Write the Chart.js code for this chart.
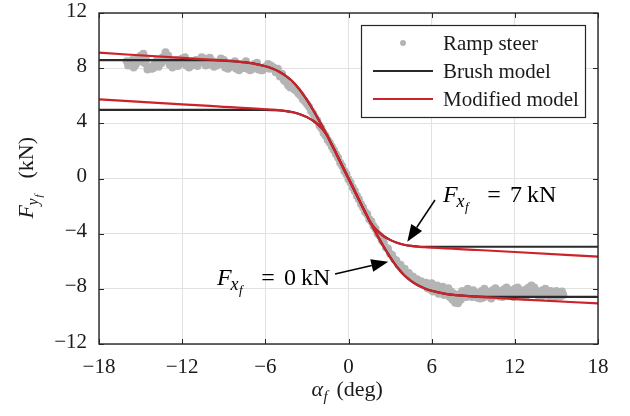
<!DOCTYPE html>
<html>
<head>
<meta charset="utf-8">
<title>Front lateral force vs slip angle</title>
<script src="https://cdn.jsdelivr.net/npm/chart.js@4.4.1/dist/chart.umd.min.js"></script>
<style>
  html, body { margin: 0; padding: 0; background: #ffffff; }
  canvas { display: block; }
</style>
</head>
<body>
<canvas id="chart" width="630" height="416" style="width:630px;height:416px"></canvas>
<script>
// ---------------- data ----------------
const xTickValues = [-18, -12, -6, 0, 6, 12, 18];
const yTickValues = [-12, -8, -4, 0, 4, 8, 12];
const seriesNames = ['Ramp steer', 'Brush model', 'Modified model'];
const annotationForces = ['7', '0'];   // F_xf values (kN) of the two labelled curve pairs

// Ramp steer measurements: slip angle (deg)
const rampAlpha = [
  -16.0,-15.8,-15.6,-15.4,-15.2,-15.0,-14.8,-14.6,-14.4,-14.2,-14.0,-13.8,-13.6,-13.4,-13.2,-13.0,-12.8,-12.6,-12.4,-12.2,
  -12.0,-11.8,-11.6,-11.4,-11.2,-11.0,-10.8,-10.6,-10.4,-10.2,-10.0,-9.8,-9.6,-9.4,-9.2,-9.0,-8.8,-8.6,-8.4,-8.2,
  -8.0,-7.8,-7.6,-7.4,-7.2,-7.0,-6.8,-6.6,-6.4,-6.2,-6.0,-5.8,-5.6,
  -15.9,-15.7,-15.5,-15.3,-15.1,-14.9,-14.7,-14.5,-14.3,-14.1,-13.9,-13.7,-13.5,-13.3,-13.1,-12.9,-12.7,-12.5,-12.3,-12.1,
  -11.9,-11.7,-11.5,-11.3,-11.1,-10.9,-10.7,-10.5,-10.3,-10.1,-9.9,-9.7,-9.5,-9.3,-9.1,-8.9,-8.7,-8.5,-8.3,-8.1,
  -7.9,-7.7,-7.5,-7.3,-7.1,-6.9,-6.7,-6.5,-6.3,-6.1,-5.9,-5.7,
  -5.4,-5.25,-5.1,-4.95,-4.8,-4.65,-4.5,-4.35,-4.2,-4.05,-3.9,-3.75,-3.6,-3.45,-3.3,-3.15,-3.0,-2.85,-2.7,-2.55,
  -2.4,-2.25,-2.1,-1.95,-1.8,-1.65,-1.5,-1.35,-1.2,-1.05,-0.9,-0.75,-0.6,-0.45,-0.3,-0.15,0,
  0.15,0.3,0.45,0.6,0.75,0.9,1.05,1.2,1.35,1.5,1.65,1.8,1.95,2.1,2.25,2.4,2.55,2.7,2.85,3.0,
  3.15,3.3,3.45,3.6,3.75,3.9,4.05,4.2,4.35,4.5,4.65,4.8,4.95,5.1,5.25,5.4,
  5.6,5.8,6.0,6.2,6.4,6.6,6.8,7.0,7.2,7.4,7.6,7.8,8.0,8.2,8.4,8.6,8.8,9.0,9.2,9.4,
  9.6,9.8,10.0,10.2,10.4,10.6,10.8,11.0,11.2,11.4,11.6,11.8,12.0,12.2,12.4,12.6,12.8,13.0,13.2,13.4,
  13.6,13.8,14.0,14.2,14.4,14.6,14.8,15.0,15.2,15.4,
  5.7,5.9,6.1,6.3,6.5,6.7,6.9,7.1,7.3,7.5,7.7,7.9,8.1,8.3,8.5,8.7,8.9,9.1,9.3,9.5,
  9.7,9.9,10.1,10.3,10.5,10.7,10.9,11.1,11.3,11.5,11.7,11.9,12.1,12.3,12.5,12.7,12.9,13.1,13.3,13.5,
  13.7,13.9,14.1,14.3,14.5,14.7,14.9,15.1,15.3,15.5
];
// Ramp steer measurements: lateral force (kN)
const rampFy = [
  8.5,8.3,8.6,8.2,8.7,8.9,9.05,8.6,8.1,7.95,8.3,8.6,8.4,8.8,9.15,8.9,8.5,8.3,8.6,8.4,
  8.7,8.8,8.5,8.3,8.5,8.6,8.4,8.8,8.7,8.4,8.75,8.5,8.3,8.45,8.7,8.6,8.3,8.1,8.35,8.5,
  8.2,7.95,8.3,8.5,8.1,7.9,8.3,8.4,8.0,7.85,8.1,8.3,8.2,
  8.2,8.45,8.05,8.35,8.5,8.7,8.35,7.9,8.05,8.0,8.2,8.1,8.35,8.6,8.55,8.25,8.05,8.2,8.15,8.35,
  8.5,8.2,8.05,8.2,8.3,8.15,8.45,8.5,8.2,8.4,8.25,8.1,8.2,8.4,8.3,8.05,7.95,8.1,8.2,7.95,
  7.85,8.0,8.2,7.95,7.85,8.0,8.1,7.9,7.85,7.95,8.05,7.95,
  8.05,7.7,7.95,7.4,7.6,7.1,7.0,6.75,6.6,6.7,6.45,6.35,6.15,6.0,5.75,5.6,5.4,5.2,4.9,4.7,
  4.4,4.2,3.85,3.65,3.3,3.1,2.8,2.6,2.3,2.05,1.75,1.5,1.15,0.9,0.55,0.3,-0.05,
  -0.3,-0.65,-0.9,-1.25,-1.5,-1.85,-2.1,-2.42,-2.6,-2.95,-3.12,-3.45,-3.65,-4.0,-4.15,-4.5,-4.65,-5.0,-5.1,-5.45,
  -5.55,-5.85,-5.95,-6.25,-6.25,-6.55,-6.55,-6.85,-6.85,-7.1,-7.1,-7.35,-7.3,-7.5,-7.45,-7.65,
  -7.55,-7.7,-7.6,-7.85,-7.75,-7.95,-7.85,-8.05,-7.95,-8.2,-8.35,-8.55,-8.4,-8.15,-8.25,-8.0,-8.2,-8.1,-8.3,-8.35,
  -8.15,-8.0,-8.2,-8.3,-8.1,-7.95,-8.15,-8.25,-8.05,-7.9,-8.1,-8.2,-8.0,-7.9,-8.1,-8.2,-8.05,-7.9,-7.75,-7.9,
  -8.15,-8.25,-8.1,-8.0,-8.2,-8.15,-8.25,-8.15,-8.25,-8.2,
  -7.95,-8.05,-8.2,-8.1,-8.35,-8.25,-8.45,-8.4,-8.6,-8.8,-9.0,-9.05,-8.8,-8.55,-8.6,-8.45,-8.6,-8.5,-8.65,-8.7,
  -8.65,-8.45,-8.55,-8.7,-8.5,-8.4,-8.55,-8.6,-8.45,-8.35,-8.5,-8.6,-8.45,-8.35,-8.5,-8.6,-8.45,-8.3,-8.2,-8.35,
  -8.5,-8.6,-8.45,-8.4,-8.55,-8.5,-8.6,-8.5,-8.55,-8.45
];

// Model curves sampled at these slip angles (deg)
const curveAlpha = [-18,-12,-10,-9,-8,-7,-6,-5.5,-5,-4.5,-4,-3.5,-3,-2.5,-2,-1.75,-1.5,-1.25,-1,-0.5,0,
                    0.5,1,1.25,1.5,1.75,2,2.5,3,3.5,4,4.5,5,5.5,6,7,8,9,10,12,18];
// Brush model, F_xf = 0 kN
const brushFx0 = [8.58,8.58,8.58,8.55,8.48,8.36,8.14,7.97,7.74,7.42,7.0,6.42,5.7,4.88,3.98,3.51,3.04,2.54,2.04,1.02,0,
                  -1.02,-2.04,-2.54,-3.04,-3.51,-3.98,-4.88,-5.7,-6.42,-7.0,-7.42,-7.74,-7.97,-8.14,-8.36,-8.48,-8.55,-8.58,-8.58,-8.58];
// Brush model, F_xf = 7 kN
const brushFx7 = [4.97,4.97,4.97,4.97,4.97,4.97,4.97,4.96,4.94,4.89,4.8,4.66,4.45,4.15,3.72,3.42,3.04,2.54,2.04,1.02,0,
                  -1.02,-2.04,-2.54,-3.04,-3.42,-3.72,-4.15,-4.45,-4.66,-4.8,-4.89,-4.93,-4.95,-4.95,-4.95,-4.95,-4.95,-4.95,-4.95,-4.95];
// Modified model, F_xf = 0 kN
const modifiedFx0 = [9.12,8.74,8.62,8.56,8.48,8.36,8.14,7.97,7.74,7.42,7.0,6.42,5.7,4.88,3.98,3.51,3.04,2.54,2.04,1.02,0,
                     -1.02,-2.04,-2.54,-3.04,-3.51,-3.98,-4.88,-5.7,-6.42,-7.0,-7.42,-7.74,-7.97,-8.14,-8.36,-8.48,-8.56,-8.62,-8.74,-9.06];
// Modified model, F_xf = 7 kN
const modifiedFx7 = [5.74,5.38,5.26,5.2,5.14,5.08,5.02,4.99,4.95,4.89,4.8,4.66,4.45,4.15,3.72,3.42,3.04,2.54,2.04,1.02,0,
                     -1.02,-2.04,-2.54,-3.04,-3.42,-3.72,-4.15,-4.45,-4.66,-4.8,-4.89,-4.95,-4.98,-5.01,-5.06,-5.12,-5.17,-5.22,-5.33,-5.67];

// ---------------- styling ----------------
const FONT = "'Liberation Serif','Times New Roman',Times,serif";
const COLORS = {
  ramp: '#b4b4b4', brush: '#2a2a2a', modified: '#cc2229',
  axis: '#262626', grid: '#e2e2e2', text: '#1a1a1a'
};
// annotation anchors in data units (slip angle, force)
const ANNOT = [
  { label: [6.82, -1.70], tail: [6.24, -1.56], tip: [4.24, -4.58] },
  { label: [-9.49, -7.72], tail: [-0.97, -6.93], tip: [2.87, -6.03] }
];

function fmtTick(v) { return v < 0 ? '\u2212' + Math.abs(v) : String(v); }
function pts(xs, ys) { return xs.map((a, i) => ({ x: a, y: ys[i] })); }

function drawRuns(ctx, x, y, runs) {
  runs.forEach(r => {
    ctx.font = (r.italic ? 'italic ' : '') + r.size + 'px ' + FONT;
    ctx.textAlign = r.align || 'left';
    ctx.fillText(r.t, x + r.dx, y + (r.dy || 0));
  });
}

function drawArrow(ctx, x0, y0, x1, y1) {
  const ang = Math.atan2(y1 - y0, x1 - x0), L = 17, W = 6.5;
  const bx = x1 - L * Math.cos(ang), by = y1 - L * Math.sin(ang);
  ctx.lineWidth = 1.5;
  ctx.beginPath(); ctx.moveTo(x0, y0); ctx.lineTo(bx, by); ctx.stroke();
  ctx.beginPath();
  ctx.moveTo(x1, y1);
  ctx.lineTo(bx + W * Math.sin(ang), by - W * Math.cos(ang));
  ctx.lineTo(bx - W * Math.sin(ang), by + W * Math.cos(ang));
  ctx.closePath(); ctx.fill();
}

const overlay = {
  id: 'overlay',
  afterDatasetsDraw(chart) {
    const { ctx, chartArea: a, scales: { x, y } } = chart;
    ctx.save();
    // frame box
    ctx.strokeStyle = COLORS.axis;
    ctx.lineWidth = 1.4;
    ctx.strokeRect(a.left, a.top, a.right - a.left, a.bottom - a.top);
    // inward ticks on all four sides
    ctx.lineWidth = 1;
    ctx.beginPath();
    xTickValues.forEach(v => {
      const px = Math.round(x.getPixelForValue(v)) + 0.5;
      ctx.moveTo(px, a.bottom); ctx.lineTo(px, a.bottom - 5);
      ctx.moveTo(px, a.top); ctx.lineTo(px, a.top + 5);
    });
    yTickValues.forEach(v => {
      const py = Math.round(y.getPixelForValue(v)) + 0.5;
      ctx.moveTo(a.left, py); ctx.lineTo(a.left + 5, py);
      ctx.moveTo(a.right, py); ctx.lineTo(a.right - 5, py);
    });
    ctx.stroke();

    // legend box
    const lw = 224, lh = 92;
    const lx = Math.round(a.right - 13 - lw), ly = Math.round(a.top + 12);
    ctx.fillStyle = '#ffffff';
    ctx.fillRect(lx, ly, lw, lh);
    ctx.strokeStyle = COLORS.axis; ctx.lineWidth = 1.2;
    ctx.strokeRect(lx + 0.5, ly + 0.5, lw, lh);
    const rows = [ly + 18, ly + 46, ly + 74];
    ctx.fillStyle = COLORS.ramp;
    ctx.beginPath(); ctx.arc(lx + 42, rows[0], 3, 0, Math.PI * 2); ctx.fill();
    ctx.lineWidth = 2.2;
    ctx.strokeStyle = COLORS.brush;
    ctx.beginPath(); ctx.moveTo(lx + 12, rows[1]); ctx.lineTo(lx + 72, rows[1]); ctx.stroke();
    ctx.strokeStyle = COLORS.modified;
    ctx.beginPath(); ctx.moveTo(lx + 12, rows[2]); ctx.lineTo(lx + 72, rows[2]); ctx.stroke();
    ctx.fillStyle = COLORS.text;
    ctx.font = '21px ' + FONT;
    ctx.textAlign = 'left'; ctx.textBaseline = 'middle';
    seriesNames.forEach((n, i) => ctx.fillText(n, lx + 82, rows[i] + 1));

    // annotations: labels and arrows
    ctx.textBaseline = 'alphabetic';
    ctx.fillStyle = '#000000'; ctx.strokeStyle = '#000000';
    ANNOT.forEach((an, i) => {
      const px = x.getPixelForValue(an.label[0]), py = y.getPixelForValue(an.label[1]);
      drawRuns(ctx, px, py, [
        { t: 'F', italic: true, size: 24, dx: 0 },
        { t: 'x', italic: true, size: 18, dx: 13.5, dy: 5 },
        { t: 'f', italic: true, size: 13, dx: 22, dy: 9 },
        { t: '=', size: 24, dx: 51, align: 'center' },
        { t: annotationForces[i], size: 24, dx: 67 },
        { t: 'kN', size: 24, dx: 84 }
      ]);
      drawArrow(ctx,
        x.getPixelForValue(an.tail[0]), y.getPixelForValue(an.tail[1]),
        x.getPixelForValue(an.tip[0]), y.getPixelForValue(an.tip[1]));
    });
    ctx.restore();
  },
  afterDraw(chart) {
    const { ctx, chartArea: a } = chart;
    ctx.save();
    ctx.fillStyle = COLORS.text;
    ctx.textBaseline = 'alphabetic';
    // x-axis title: alpha_f (deg)
    const cx = (a.left + a.right) / 2;
    drawRuns(ctx, cx - 37, a.bottom + 52, [
      { t: '\u03B1', italic: true, size: 22, dx: 0 },
      { t: 'f', italic: true, size: 15, dx: 12, dy: 5 },
      { t: '(deg)', size: 22, dx: 25 }
    ]);
    // y-axis title: F_{y_f} (kN), rotated
    const cy = (a.top + a.bottom) / 2;
    ctx.translate(33, cy + 40);
    ctx.rotate(-Math.PI / 2);
    drawRuns(ctx, 0, 0, [
      { t: 'F', italic: true, size: 22, dx: 0 },
      { t: 'y', italic: true, size: 16, dx: 13, dy: 5 },
      { t: 'f', italic: true, size: 11, dx: 21, dy: 9 },
      { t: '(kN)', size: 22, dx: 40 }
    ]);
    ctx.restore();
  }
};

const lineStyle = (color) => ({
  showLine: true, borderColor: color, backgroundColor: color, borderWidth: 2.2,
  pointRadius: 0, pointHoverRadius: 0, cubicInterpolationMode: 'monotone', fill: false
});

new Chart(document.getElementById('chart'), {
  type: 'scatter',
  data: {
    datasets: [
      { label: seriesNames[0], data: pts(rampAlpha, rampFy), showLine: false,
        pointRadius: 4, pointHoverRadius: 4, pointBorderWidth: 0,
        pointBackgroundColor: COLORS.ramp, pointBorderColor: COLORS.ramp, order: 5 },
      Object.assign({ label: seriesNames[1], data: pts(curveAlpha, brushFx0), order: 3 }, lineStyle(COLORS.brush)),
      Object.assign({ label: seriesNames[1], data: pts(curveAlpha, brushFx7), order: 3 }, lineStyle(COLORS.brush)),
      Object.assign({ label: seriesNames[2], data: pts(curveAlpha, modifiedFx0), order: 1 }, lineStyle(COLORS.modified)),
      Object.assign({ label: seriesNames[2], data: pts(curveAlpha, modifiedFx7), order: 1 }, lineStyle(COLORS.modified))
    ]
  },
  options: {
    responsive: false, animation: false, devicePixelRatio: 1,
    layout: { padding: { left: 0, right: 32, top: 13, bottom: 0 } },
    plugins: { legend: { display: false }, tooltip: { enabled: false } },
    events: [],
    scales: {
      x: {
        type: 'linear', position: 'bottom', min: -18, max: 18,
        afterBuildTicks: s => { s.ticks = xTickValues.map(v => ({ value: v })); },
        afterFit: s => { s.height = 72; s.paddingLeft = 0; s.paddingRight = 0; },
        grid: { color: COLORS.grid, lineWidth: 1, drawTicks: false },
        border: { display: false },
        ticks: { autoSkip: false, maxRotation: 0, padding: 11, color: COLORS.text,
                 font: { family: FONT, size: 21 }, callback: v => fmtTick(v) }
      },
      y: {
        type: 'linear', position: 'left', min: -12, max: 12,
        afterBuildTicks: s => { s.ticks = yTickValues.map(v => ({ value: v })); },
        afterFit: s => { s.width = 99; s.paddingTop = 0; s.paddingBottom = 0; },
        grid: { color: COLORS.grid, lineWidth: 1, drawTicks: false },
        border: { display: false },
        ticks: { autoSkip: false, padding: 12, labelOffset: -2, color: COLORS.text,
                 font: { family: FONT, size: 21 }, callback: v => fmtTick(v) }
      }
    }
  },
  plugins: [overlay]
});
</script>
</body>
</html>
